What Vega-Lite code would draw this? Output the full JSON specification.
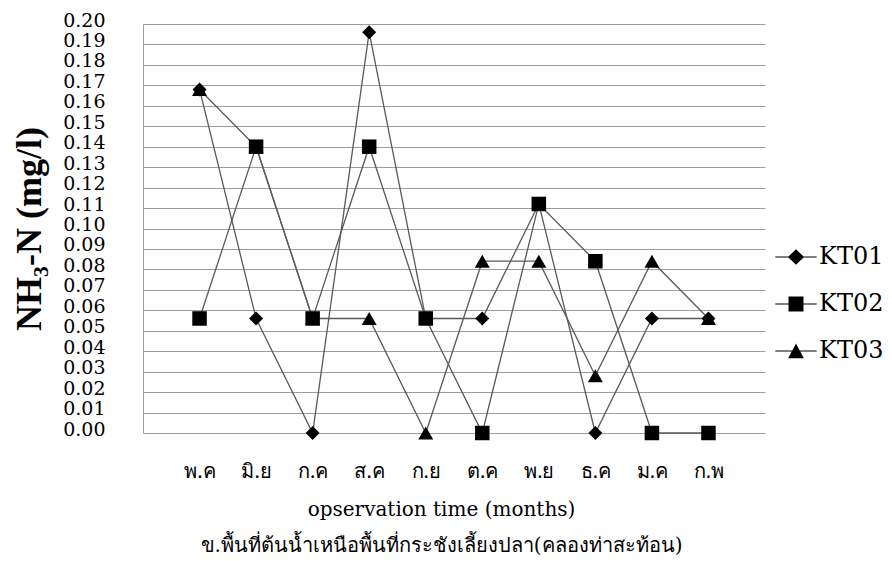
{
  "$schema": "https://vega.github.io/schema/vega-lite/v6.json",
  "width": 622,
  "height": 409,
  "autosize": {"type": "none"},
  "padding": {"left": 143, "top": 24, "right": 127, "bottom": 128},
  "background": "white",
  "config": {
    "view": {"stroke": null},
    "font": "DejaVu Serif"
  },
  "data": {
    "values": [
      {"month": "พ.ค", "series": "KT01", "value": 0.168},
      {"month": "มิ.ย", "series": "KT01", "value": 0.056},
      {"month": "ก.ค", "series": "KT01", "value": 0.0},
      {"month": "ส.ค", "series": "KT01", "value": 0.196},
      {"month": "ก.ย", "series": "KT01", "value": 0.056},
      {"month": "ต.ค", "series": "KT01", "value": 0.056},
      {"month": "พ.ย", "series": "KT01", "value": 0.112},
      {"month": "ธ.ค", "series": "KT01", "value": 0.0},
      {"month": "ม.ค", "series": "KT01", "value": 0.056},
      {"month": "ก.พ", "series": "KT01", "value": 0.056},
      {"month": "พ.ค", "series": "KT02", "value": 0.056},
      {"month": "มิ.ย", "series": "KT02", "value": 0.14},
      {"month": "ก.ค", "series": "KT02", "value": 0.056},
      {"month": "ส.ค", "series": "KT02", "value": 0.14},
      {"month": "ก.ย", "series": "KT02", "value": 0.056},
      {"month": "ต.ค", "series": "KT02", "value": 0.0},
      {"month": "พ.ย", "series": "KT02", "value": 0.112},
      {"month": "ธ.ค", "series": "KT02", "value": 0.084},
      {"month": "ม.ค", "series": "KT02", "value": 0.0},
      {"month": "ก.พ", "series": "KT02", "value": 0.0},
      {"month": "พ.ค", "series": "KT03", "value": 0.168},
      {"month": "มิ.ย", "series": "KT03", "value": 0.14},
      {"month": "ก.ค", "series": "KT03", "value": 0.056},
      {"month": "ส.ค", "series": "KT03", "value": 0.056},
      {"month": "ก.ย", "series": "KT03", "value": 0.0},
      {"month": "ต.ค", "series": "KT03", "value": 0.084},
      {"month": "พ.ย", "series": "KT03", "value": 0.084},
      {"month": "ธ.ค", "series": "KT03", "value": 0.028},
      {"month": "ม.ค", "series": "KT03", "value": 0.084},
      {"month": "ก.พ", "series": "KT03", "value": 0.056}
    ]
  },
  "encoding": {
    "x": {
      "field": "month",
      "type": "ordinal",
      "sort": ["พ.ค", "มิ.ย", "ก.ค", "ส.ค", "ก.ย", "ต.ค", "พ.ย", "ธ.ค", "ม.ค", "ก.พ"],
      "scale": {"type": "point", "padding": 1},
      "axis": {
        "domain": false,
        "ticks": false,
        "grid": false,
        "labelAngle": 0,
        "labelFont": "Noto Sans",
        "labelFontSize": 20,
        "labelColor": "#000",
        "labelPadding": 28,
        "title": ["opservation time (months)", "ข.พื้นที่ต้นน้ำเหนือพื้นที่กระชังเลี้ยงปลา(คลองท่าสะท้อน)"],
        "titleFont": "DejaVu Serif",
        "titleFontSize": 20,
        "titleFontWeight": "normal",
        "titleColor": "#000",
        "titleLineHeight": 36,
        "titleX": 298,
        "titleY": 82,
        "titleBaseline": "alphabetic",
        "titleAnchor": "middle"
      }
    },
    "y": {
      "field": "value",
      "type": "quantitative",
      "scale": {"domain": [0, 0.2], "nice": false},
      "axis": {
        "values": [0, 0.01, 0.02, 0.03, 0.04, 0.05, 0.06, 0.07, 0.08, 0.09, 0.1, 0.11, 0.12, 0.13, 0.14, 0.15, 0.16, 0.17, 0.18, 0.19, 0.2],
        "format": ".2f",
        "domain": true,
        "domainColor": "#9d9d9d",
        "domainWidth": 1,
        "ticks": false,
        "grid": true,
        "gridColor": "#9d9d9d",
        "gridWidth": 1,
        "gridOpacity": 1,
        "labelFont": "DejaVu Serif",
        "labelFontSize": 19,
        "labelColor": "#000",
        "labelPadding": 38,
        "labelOffset": -4,
        "title": "NH₃-N (mg/l)",
        "titleFont": "Liberation Serif",
        "titleFontSize": 36,
        "titleFontWeight": "bold",
        "titleColor": "#000",
        "titlePadding": 14
      }
    }
  },
  "layer": [
    {
      "mark": {"type": "line", "color": "#5a5a5a", "strokeWidth": 1.3},
      "encoding": {"detail": {"field": "series"}}
    },
    {
      "mark": {"type": "point", "filled": true, "color": "#000", "opacity": 1},
      "encoding": {
        "shape": {
          "field": "series",
          "scale": {"domain": ["KT01", "KT02", "KT03"], "range": ["diamond", "square", "triangle-up"]},
          "legend": null
        },
        "size": {
          "field": "series",
          "type": "nominal",
          "scale": {"domain": ["KT01", "KT02", "KT03"], "range": [196, 225, 256]},
          "legend": null
        }
      }
    },
    {
      "mark": {"type": "point", "filled": true, "color": "#000", "opacity": 0},
      "encoding": {
        "shape": {
          "field": "series",
          "scale": {
            "domain": ["KT01", "KT02", "KT03"],
            "range": [
              "M -3.45 -0.1 L -1.2 -0.1 L -1.2 0.1 L -3.45 0.1 Z M 1.2 -0.1 L 3.45 -0.1 L 3.45 0.1 L 1.2 0.1 Z M 0 -1.3 L 1.35 0 L 0 1.3 L -1.35 0 Z",
              "M -3.45 -0.1 L -1.2 -0.1 L -1.2 0.1 L -3.45 0.1 Z M 1.2 -0.1 L 3.45 -0.1 L 3.45 0.1 L 1.2 0.1 Z M -1.25 -1.25 L 1.25 -1.25 L 1.25 1.25 L -1.25 1.25 Z",
              "M -3.45 -0.1 L -0.6 -0.1 L -0.6 0.1 L -3.45 0.1 Z M 0.6 -0.1 L 3.45 -0.1 L 3.45 0.1 L 0.6 0.1 Z M 0 -1.25 L 1.3 1.2 L -1.3 1.2 Z"
            ]
          },
          "legend": {
            "title": null,
            "orient": "none",
            "legendX": 641,
            "legendY": 221,
            "symbolSize": 144,
            "symbolStrokeWidth": 0,
            "labelFont": "DejaVu Serif",
            "labelFontSize": 24,
            "labelColor": "#000",
            "labelOffset": 11,
            "rowPadding": 23
          }
        }
      }
    }
  ],
  "resolve": {"scale": {"shape": "independent"}}
}
